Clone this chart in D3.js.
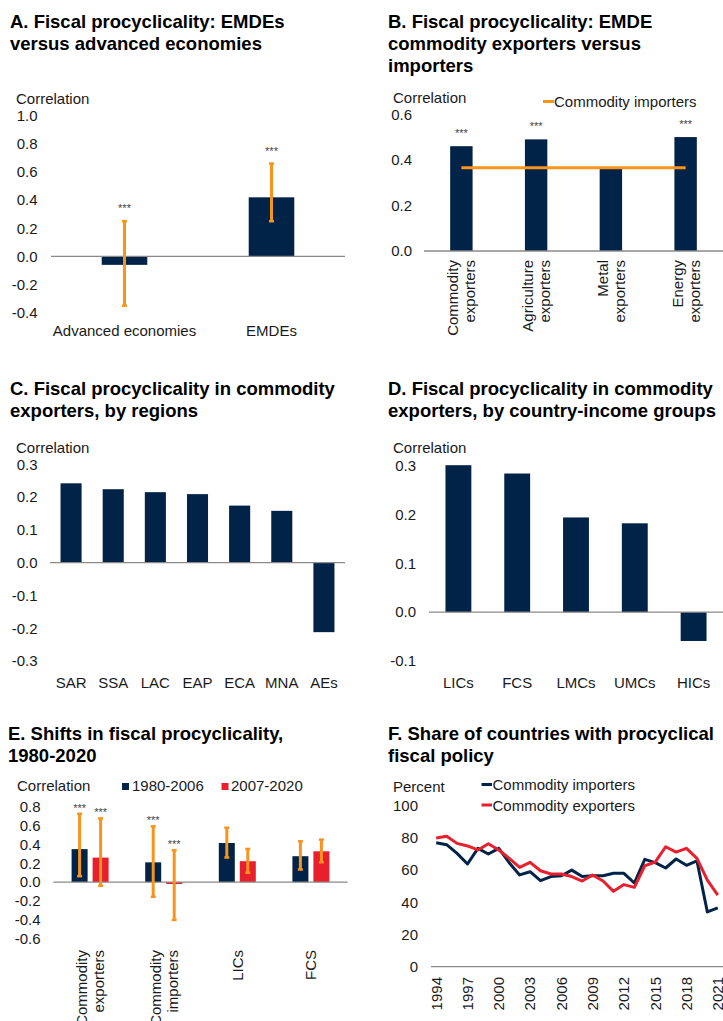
<!DOCTYPE html>
<html>
<head>
<meta charset="utf-8">
<script src="https://cdn.jsdelivr.net/npm/d3@7"></script>
<style>
  html, body { margin: 0; padding: 0; background: #fff; }
  svg { display: block; font-family: "Liberation Sans", Arial, Helvetica, sans-serif; }
</style>
</head>
<body>
<svg id="chart" width="723" height="1021"></svg>
<script>
// ---- Panel A: EMDEs vs advanced economies ----
const aCategories = ["Advanced economies", "EMDEs"];
const aValues = [-0.06, 0.42];
const aErrLow = [-0.35, 0.25];
const aErrHigh = [0.25, 0.66];
const aStars = ["***", "***"];
const aTicks = [-0.4, -0.2, 0.0, 0.2, 0.4, 0.6, 0.8, 1.0];

// ---- Panel B: commodity exporters vs importers ----
const bCategories = [["Commodity", "exporters"], ["Agriculture", "exporters"], ["Metal", "exporters"], ["Energy", "exporters"]];
const bValues = [0.46, 0.49, 0.36, 0.50];
const bImporters = [0.365, 0.365, 0.365, 0.365];
const bStars = ["***", "***", "", "***"];
const bTicks = [0.0, 0.2, 0.4, 0.6];

// ---- Panel C: commodity exporters by region ----
const cCategories = ["SAR", "SSA", "LAC", "EAP", "ECA", "MNA", "AEs"];
const cValues = [0.242, 0.224, 0.215, 0.209, 0.174, 0.158, -0.212];
const cTicks = [-0.3, -0.2, -0.1, 0.0, 0.1, 0.2, 0.3];

// ---- Panel D: commodity exporters by income group ----
const dCategories = ["LICs", "FCS", "LMCs", "UMCs", "HICs"];
const dValues = [0.301, 0.284, 0.194, 0.182, -0.059];
const dTicks = [-0.1, 0.0, 0.1, 0.2, 0.3];

// ---- Panel E: shifts across periods ----
const eCategories = [["Commodity", "exporters"], ["Commodity", "importers"], ["LICs"], ["FCS"]];
const eSeriesNames = ["1980-2006", "2007-2020"];
const eEarly = [0.35, 0.21, 0.415, 0.275];
const eEarlyLow = [0.063, -0.155, 0.261, 0.134];
const eEarlyHigh = [0.725, 0.592, 0.577, 0.433];
const eLate = [0.26, -0.02, 0.222, 0.327];
const eLateLow = [-0.039, -0.401, 0.099, 0.211];
const eLateHigh = [0.676, 0.338, 0.352, 0.451];
const eEarlyStars = ["***", "***", "", ""];
const eLateStars = ["***", "***", "", ""];
const eTicks = [-0.6, -0.4, -0.2, 0.0, 0.2, 0.4, 0.6, 0.8];

// ---- Panel F: share of countries with procyclical policy ----
const fYears = [1994, 1995, 1996, 1997, 1998, 1999, 2000, 2001, 2002, 2003, 2004, 2005, 2006, 2007,
                2008, 2009, 2010, 2011, 2012, 2013, 2014, 2015, 2016, 2017, 2018, 2019, 2020, 2021];
const fImporters = [77, 75.8, 70.4, 63.8, 73.5, 70, 73.5, 64.6, 57, 59, 53.4, 56, 56.5, 60,
                    56, 56.5, 56.5, 58, 58, 52, 66.7, 64.6, 61.3, 66.9, 63, 65.8, 34, 36.6];
const fExporters = [80, 81, 76.6, 75, 72.5, 76.4, 72.5, 67.3, 61.7, 64.8, 59.6, 57.6, 57.6, 56,
                    53.2, 57, 53.2, 46.8, 51, 49.3, 62.7, 65, 74.5, 71.2, 73.5, 67.3, 53.8, 44.5];
const fYearLabels = [1994, 1997, 2000, 2003, 2006, 2009, 2012, 2015, 2018, 2021];
const fTicks = [0, 20, 40, 60, 80, 100];

// ---- Styles ----
const NAVY = "#002347";
const RED = "#E8202D";
const ORANGE = "#F7941D";
const AXIS_GREY = "#8a8a8a";
const TEXT = "#1a1a1a";
const FS = 15;

const svg = d3.select("#chart");
const fmt1 = d => d3.format(".1f")(d).replace("\u2212", "-");

function title(x, y, lines) {
  const t = svg.append("text").attr("x", x).attr("y", y)
    .attr("font-size", 18.5).attr("font-weight", "bold").attr("fill", "#000");
  lines.forEach((l, i) => t.append("tspan").attr("x", x).attr("y", y + i * 22).text(l));
}

function label(x, y, s, anchor) {
  return svg.append("text").attr("x", x).attr("y", y).attr("font-size", FS)
    .attr("fill", TEXT).attr("text-anchor", anchor || "start").text(s);
}

function yAxis(y, xRight, ticks, format) {
  const g = svg.append("g").attr("transform", `translate(${xRight},0)`)
    .call(d3.axisLeft(y).tickValues(ticks).tickSize(0).tickPadding(0).tickFormat(format));
  g.select(".domain").remove();
  g.selectAll("text").attr("font-size", FS).attr("fill", TEXT)
    .attr("font-family", '"Liberation Sans", Arial, sans-serif');
}

function zeroLine(x0, x1, yy) {
  svg.append("line").attr("x1", x0).attr("x2", x1).attr("y1", yy).attr("y2", yy)
    .attr("stroke", AXIS_GREY).attr("stroke-width", 1.3);
}

function bars(x, y, cats, vals, frac, color, offset) {
  const w = x.bandwidth() * frac;
  svg.append("g").selectAll("rect").data(vals).join("rect")
    .attr("x", (d, i) => x(i) + x.bandwidth() / 2 - w / 2 + (offset || 0))
    .attr("width", w)
    .attr("y", d => Math.min(y(d), y(0)))
    .attr("height", d => Math.abs(y(d) - y(0)))
    .attr("fill", color);
}

function errorBars(cx, y, lows, highs) {
  const g = svg.append("g").attr("stroke", ORANGE);
  lows.forEach((lo, i) => {
    const c = cx(i);
    g.append("line").attr("x1", c).attr("x2", c).attr("y1", y(lo)).attr("y2", y(highs[i]))
      .attr("stroke-width", 3);
    [lo, highs[i]].forEach(v => g.append("line").attr("x1", c - 2.5).attr("x2", c + 2.5)
      .attr("y1", y(v)).attr("y2", y(v)).attr("stroke-width", 2.5));
  });
}

function stars(cx, yPos, marks, off) {
  marks.forEach((m, i) => {
    if (!m) return;
    svg.append("text").attr("x", cx(i)).attr("y", yPos(i) - off).attr("font-size", 11)
      .attr("fill", "#444").attr("text-anchor", "middle").text(m);
  });
}

function rotatedLabel(cx, yTop, lines) {
  const t = svg.append("text").attr("transform", `translate(${cx},${yTop}) rotate(-90)`)
    .attr("font-size", FS).attr("fill", TEXT).attr("text-anchor", "end");
  const offs = lines.length === 1 ? [5.3] : [-3, 14];
  lines.forEach((l, i) => t.append("tspan").attr("x", 0).attr("y", offs[i]).text(l));
}

// ================= Panel A =================
title(10, 28, ["A. Fiscal procyclicality: EMDEs", "versus advanced economies"]);
{
  const x = d3.scaleBand().domain(d3.range(aCategories.length)).range([51, 345]);
  const y = d3.scaleLinear().domain([-0.4, 1.0]).range([312.7, 115.7]);
  label(16, 104, "Correlation");
  yAxis(y, 37.5, aTicks, fmt1);
  bars(x, y, aCategories, aValues, 0.31, NAVY);
  zeroLine(51, 345, y(0));
  const cx = i => x(i) + x.bandwidth() / 2;
  errorBars(cx, y, aErrLow, aErrHigh);
  stars(cx, i => y(aErrHigh[i]), aStars, 9);
  aCategories.forEach((c, i) => label(cx(i), 336, c, "middle"));
}

// ================= Panel B =================
title(388, 28, ["B. Fiscal procyclicality: EMDE", "commodity exporters versus", "importers"]);
{
  const x = d3.scaleBand().domain(d3.range(bCategories.length)).range([424, 723]);
  const y = d3.scaleLinear().domain([0, 0.6]).range([251, 114.3]);
  label(393, 103, "Correlation");
  yAxis(y, 412, bTicks, fmt1);
  bars(x, y, bCategories, bValues, 0.30, NAVY);
  zeroLine(424, 723, y(0));
  const cx = i => x(i) + x.bandwidth() / 2;
  svg.append("path").datum(bImporters)
    .attr("d", d3.line().x((d, i) => cx(i)).y(d => y(d)))
    .attr("fill", "none").attr("stroke", ORANGE).attr("stroke-width", 3);
  stars(cx, i => y(bValues[i]), bStars, 9);
  bCategories.forEach((c, i) => rotatedLabel(cx(i), 260, c));
  // legend
  svg.append("line").attr("x1", 543).attr("x2", 554).attr("y1", 101.5).attr("y2", 101.5)
    .attr("stroke", ORANGE).attr("stroke-width", 3);
  label(554, 106.5, "Commodity importers");
}

// ================= Panel C =================
title(10, 395, ["C. Fiscal procyclicality in commodity", "exporters, by regions"]);
{
  const x = d3.scaleBand().domain(d3.range(cCategories.length)).range([50, 345]);
  const y = d3.scaleLinear().domain([-0.3, 0.3]).range([661, 464.3]);
  label(16, 453, "Correlation");
  yAxis(y, 37.5, cTicks, fmt1);
  bars(x, y, cCategories, cValues, 0.5, NAVY);
  zeroLine(50, 345, y(0));
  cCategories.forEach((c, i) => label(x(i) + x.bandwidth() / 2, 687.5, c, "middle"));
}

// ================= Panel D =================
title(388, 395, ["D. Fiscal procyclicality in commodity", "exporters, by country-income groups"]);
{
  const x = d3.scaleBand().domain(d3.range(dCategories.length)).range([429, 723]);
  const y = d3.scaleLinear().domain([-0.1, 0.3]).range([661, 465.7]);
  label(393, 453, "Correlation");
  yAxis(y, 416, dTicks, fmt1);
  bars(x, y, dCategories, dValues, 0.44, NAVY);
  zeroLine(429, 723, y(0));
  dCategories.forEach((c, i) => label(x(i) + x.bandwidth() / 2, 687.5, c, "middle"));
}

// ================= Panel E =================
title(8, 740, ["E. Shifts in fiscal procyclicality,", "1980-2020"]);
{
  const x = d3.scaleBand().domain(d3.range(eCategories.length)).range([53.3, 347.7]);
  const y = d3.scaleLinear().domain([-0.6, 0.8]).range([938.7, 806.7]);
  label(17, 790.5, "Correlation");
  yAxis(y, 40.5, eTicks, fmt1);
  const barFrac = 16 / x.bandwidth();
  const shift = 10.5;
  bars(x, y, eCategories, eEarly, barFrac, NAVY, -shift);
  bars(x, y, eCategories, eLate, barFrac, RED, shift);
  zeroLine(53.3, 347.7, y(0));
  const cx1 = i => x(i) + x.bandwidth() / 2 - shift;
  const cx2 = i => x(i) + x.bandwidth() / 2 + shift;
  errorBars(cx1, y, eEarlyLow, eEarlyHigh);
  errorBars(cx2, y, eLateLow, eLateHigh);
  stars(cx1, i => y(eEarlyHigh[i]), eEarlyStars, 2);
  stars(cx2, i => y(eLateHigh[i]), eLateStars, 2);
  eCategories.forEach((c, i) => rotatedLabel(x(i) + x.bandwidth() / 2, 950, c));
  // legend
  svg.append("rect").attr("x", 122).attr("y", 783).attr("width", 7).attr("height", 7).attr("fill", NAVY);
  label(132, 791, eSeriesNames[0]);
  svg.append("rect").attr("x", 221.5).attr("y", 783).attr("width", 7).attr("height", 7).attr("fill", RED);
  label(231, 791, eSeriesNames[1]);
}

// ================= Panel F =================
title(388, 740, ["F. Share of countries with procyclical", "fiscal policy"]);
{
  const x = d3.scaleBand().domain(fYears).range([431, 723]);
  const y = d3.scaleLinear().domain([0, 100]).range([966.7, 805.7]);
  const cx = yr => x(yr) + x.bandwidth() / 2;
  label(393, 791.5, "Percent");
  yAxis(y, 418, fTicks, d3.format("d"));
  zeroLine(431, 723, y(0));
  const line = d3.line().x((d, i) => cx(fYears[i])).y(d => y(d));
  svg.append("path").datum(fImporters).attr("d", line)
    .attr("fill", "none").attr("stroke", NAVY).attr("stroke-width", 3).attr("stroke-linejoin", "round");
  svg.append("path").datum(fExporters).attr("d", line)
    .attr("fill", "none").attr("stroke", RED).attr("stroke-width", 3).attr("stroke-linejoin", "round");
  fYearLabels.forEach(yr => rotatedLabel(cx(yr), 977, [String(yr)]));
  // legend
  svg.append("line").attr("x1", 481.5).attr("x2", 492).attr("y1", 784.5).attr("y2", 784.5)
    .attr("stroke", NAVY).attr("stroke-width", 3);
  label(492.5, 790, "Commodity importers");
  svg.append("line").attr("x1", 481.5).attr("x2", 492).attr("y1", 805).attr("y2", 805)
    .attr("stroke", RED).attr("stroke-width", 3);
  label(492.5, 810.5, "Commodity exporters");
}
</script>
</body>
</html>
